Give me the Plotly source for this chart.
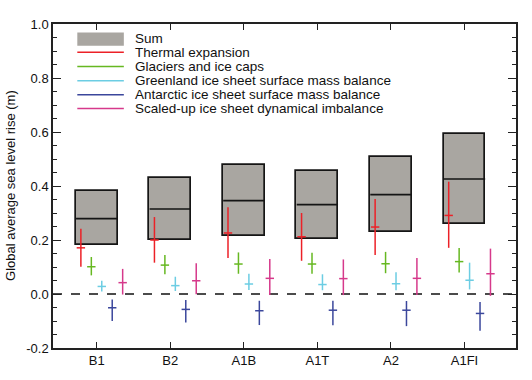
import plotly.graph_objects as go

scenarios = ["B1", "B2", "A1B", "A1T", "A2", "A1FI"]

sum_low = [0.18, 0.20, 0.215, 0.205, 0.23, 0.258]
sum_high = [0.382, 0.431, 0.478, 0.456, 0.508, 0.594]
sum_mid = [0.279, 0.315, 0.346, 0.331, 0.368, 0.426]

thermal_low = [0.101, 0.116, 0.133, 0.123, 0.144, 0.171]
thermal_mid = [0.171, 0.200, 0.226, 0.212, 0.248, 0.291]
thermal_high = [0.242, 0.285, 0.321, 0.300, 0.352, 0.416]

glacier_low = [0.069, 0.073, 0.075, 0.075, 0.077, 0.080]
glacier_mid = [0.101, 0.107, 0.111, 0.111, 0.112, 0.120]
glacier_high = [0.137, 0.144, 0.154, 0.153, 0.156, 0.170]

greenland_low = [0.009, 0.011, 0.015, 0.014, 0.014, 0.017]
greenland_mid = [0.028, 0.031, 0.037, 0.035, 0.038, 0.051]
greenland_high = [0.049, 0.064, 0.075, 0.073, 0.081, 0.116]

antarctic_low = [-0.100, -0.106, -0.115, -0.116, -0.119, -0.136]
antarctic_mid = [-0.051, -0.057, -0.062, -0.060, -0.060, -0.072]
antarctic_high = [-0.020, -0.022, -0.025, -0.025, -0.026, -0.030]

dynamic_low = [-0.002, -0.001, -0.004, -0.004, -0.004, -0.007]
dynamic_mid = [0.042, 0.049, 0.058, 0.057, 0.058, 0.075]
dynamic_high = [0.093, 0.114, 0.130, 0.128, 0.133, 0.168]

components = [
    ("Thermal expansion", "#ec2127", thermal_low, thermal_mid, thermal_high),
    ("Glaciers and ice caps", "#66b821", glacier_low, glacier_mid, glacier_high),
    ("Greenland ice sheet surface mass balance", "#6ccde3", greenland_low, greenland_mid, greenland_high),
    ("Antarctic ice sheet surface mass balance", "#3b479c", antarctic_low, antarctic_mid, antarctic_high),
    ("Scaled-up ice sheet dynamical imbalance", "#d6398b", dynamic_low, dynamic_mid, dynamic_high),
]
offsets = [-0.215, -0.073, 0.069, 0.211, 0.353]

FONT = "Liberation Sans, Arial, Helvetica, sans-serif"
idx = list(range(len(scenarios)))

fig = go.Figure()

fig.add_trace(go.Bar(
    x=idx, base=sum_low, y=[h - l for h, l in zip(sum_high, sum_low)],
    width=0.57, marker=dict(color="#a9a6a1", line=dict(color="#151515", width=1.7)),
    showlegend=False, hoverinfo="skip"))

# median line (line-ew symbol length = 1.4 * size)
fig.add_trace(go.Scatter(
    x=idx, y=sum_mid, mode="markers",
    marker=dict(symbol="line-ew", size=29.5, line=dict(color="#151515", width=1.6)),
    showlegend=False, hoverinfo="skip"))

for (name, color, lo, mid, hi), off in zip(components, offsets):
    fig.add_trace(go.Scatter(
        x=[i + off for i in idx], y=mid, mode="markers",
        marker=dict(symbol="line-ew", size=6, color=color, line=dict(color=color, width=1.5)),
        error_y=dict(type="data", symmetric=False,
                     array=[h - m for h, m in zip(hi, mid)],
                     arrayminus=[m - l for m, l in zip(mid, lo)],
                     color=color, thickness=1.5, width=0),
        showlegend=False, hoverinfo="skip"))

# zero reference line
fig.add_shape(type="line", xref="paper", x0=0, x1=1, yref="y", y0=0, y1=0,
              line=dict(color="#111", width=1.5, dash="9px,9px"), layer="below")

# manual legend (paper coords)
LEG_FONT = dict(family=FONT, size=13.5, color="#111")
fig.add_shape(type="rect", xref="paper", yref="paper", x0=0.0525, x1=0.153, y0=0.933, y1=0.974,
              fillcolor="#a9a6a1", line=dict(width=0))
fig.add_annotation(xref="paper", yref="paper", x=0.173, y=0.954, text="Sum", showarrow=False,
                   xanchor="left", yanchor="middle", font=LEG_FONT)
leg_y = [0.913, 0.869, 0.825, 0.782, 0.739]
for (name, color, *_), yy in zip(components, leg_y):
    fig.add_shape(type="line", xref="paper", yref="paper", x0=0.0525, x1=0.153, y0=yy, y1=yy,
                  line=dict(color=color, width=1.5))
    fig.add_annotation(xref="paper", yref="paper", x=0.173, y=yy, text=name, showarrow=False,
                       xanchor="left", yanchor="middle", font=LEG_FONT)

# y-axis title
fig.add_annotation(xref="paper", yref="paper", x=-0.093, y=0.503, text="Global average sea level rise (m)",
                   textangle=-90, showarrow=False, xanchor="center", yanchor="middle",
                   font=dict(family=FONT, size=13, color="#111"))

fig.update_layout(
    width=532, height=380,
    margin=dict(l=53, r=16, t=24, b=32, autoexpand=False),
    plot_bgcolor="white", paper_bgcolor="white",
    font=dict(family=FONT, size=13, color="#111"),
    bargap=0,
)
fig.update_xaxes(
    range=[-0.594, 5.70], tickvals=idx, ticktext=scenarios, automargin=False,
    showgrid=False, zeroline=False, showline=True, linecolor="#222", linewidth=1.5,
    mirror="ticks", ticks="inside", ticklen=6, tickwidth=1.3, tickcolor="#222",
    tickfont=dict(family=FONT, size=13, color="#111"),
)
fig.update_yaxes(
    range=[-0.2, 1.0], tickvals=[-0.2, 0, 0.2, 0.4, 0.6, 0.8, 1.0],
    ticktext=["-0.2", "0.0", "0.2", "0.4", "0.6", "0.8", "1.0"], automargin=False,
    showgrid=False, zeroline=False, showline=True, linecolor="#222", linewidth=1.5,
    mirror="ticks", ticks="inside", ticklen=8, tickwidth=1.3, tickcolor="#222",
    minor=dict(dtick=0.05, tick0=0, ticks="inside", ticklen=4, tickwidth=1.2, tickcolor="#222", showgrid=False),
    tickfont=dict(family=FONT, size=13, color="#111"),
)

fig.write_html("out.html", config={"displayModeBar": False},
               post_script="document.body.style.margin='0';")
